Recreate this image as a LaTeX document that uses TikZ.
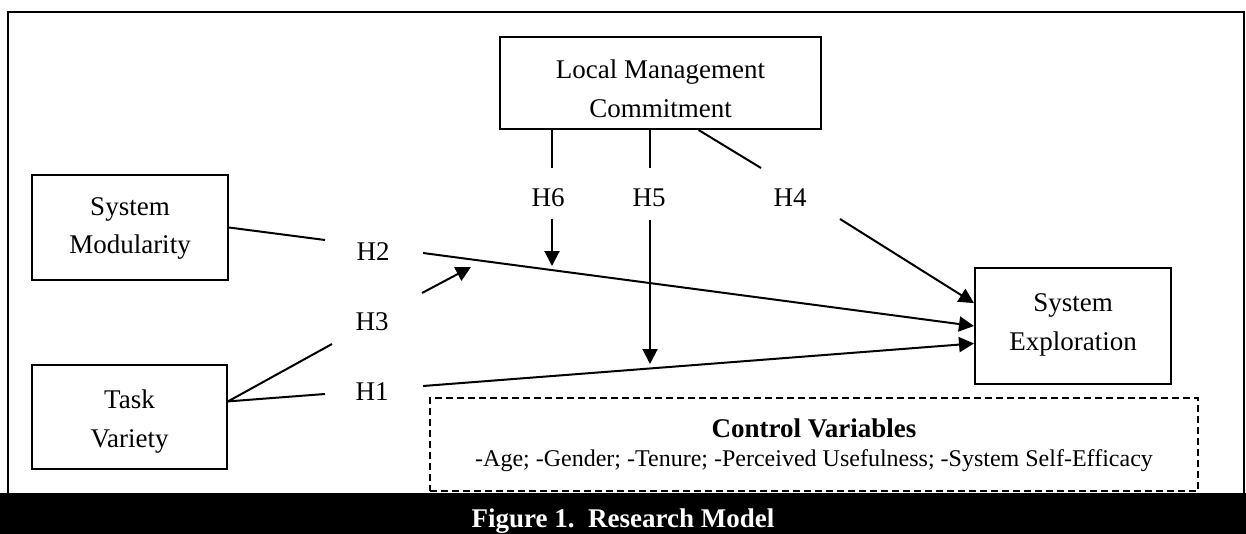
\documentclass[tikz,border=0pt]{standalone}
\usepackage{fontspec}
\setmainfont{Liberation Serif}
\usetikzlibrary{arrows.meta}

\tikzset{
  varbox/.style={draw, line width=1pt, align=center, inner sep=0pt,
    font=\fontsize{13.5}{19.5}\selectfont},
  hyplabel/.style={anchor=base, inner sep=0pt, font=\fontsize{13.5}{16}\selectfont},
  link/.style={line width=1pt},
  effect/.style={link, -{Triangle[length=7.5pt,width=7.5pt]}},
}

\begin{document}
\begin{tikzpicture}[x=0.5pt,y=-0.5pt] % Research model
       \useasboundingbox (0,0) rectangle (1246,534);
       \fill[black] (0,493) rectangle (1246,534);
       \draw[line width=1.2pt] (8,493) -- (8,12) -- (1244,12) -- (1244,493);
       \node[text=white, anchor=base, inner sep=0pt, font=\bfseries\fontsize{13.5}{16}\selectfont]
                (caption) at (623,527) {Figure 1.\ \ Research Model};

       \node[varbox, minimum width=98pt, minimum height=52.5pt, text height=29.5pt, text depth=3pt]
                (sm) at (130,227.5) {System\\Modularity};
       \node[varbox, minimum width=97.5pt, minimum height=52pt, text height=33pt, text depth=3pt]
                (tv) at (129.5,417) {Task\\Variety};
       \node[varbox, minimum width=160.5pt, minimum height=46pt, text height=37pt, text depth=2pt]
                (lmc) at (660.5,83) {Local Management\\Commitment};
       \node[varbox, minimum width=98pt, minimum height=58pt, text height=27pt, text depth=3pt]
                (se) at (1073,326) {System\\Exploration};
       \node[draw, line width=1pt, dash pattern=on 3.5pt off 2pt, minimum width=384pt, minimum height=46.5pt,
                inner sep=0pt, align=center, text height=24.5pt, text depth=3pt, font=\fontsize{12}{14.5}\selectfont]
                (cv) at (814,444.5) {{\bfseries\fontsize{13.5}{14.5}\selectfont Control Variables}\\
                -Age; -Gender; -Tenure; -Perceived Usefulness; -System Self-Efficacy};

       \node[hyplabel] (h1) at (372,400) {H1};
       \node[hyplabel] (h2) at (373,260) {H2};
       \node[hyplabel] (h3) at (372,330) {H3};
       \node[hyplabel] (h4) at (790,206) {H4};
       \node[hyplabel] (h5) at (649,206) {H5};
       \node[hyplabel] (h6) at (548,206) {H6};

       \coordinate (h1in) at (325,394);  \coordinate (h1out) at (423,386);
       \coordinate (h2in) at (325,240);  \coordinate (h2out) at (423,253);
       \coordinate (h3in) at (332,344);  \coordinate (h3out) at (422,293);
       \coordinate (h3tip) at (471,267);
       \coordinate (h4in) at (761,168);  \coordinate (h4out) at (840,219);
       \coordinate (h5in) at (650,168);  \coordinate (h5out) at (650,220);
       \coordinate (h5tip) at (650,364);
       \coordinate (h6in) at (552,168);  \coordinate (h6out) at (552,219);
       \coordinate (h6tip) at (552,266);

       \draw[link] (sm.east) -- (h2in);
       \draw[effect] (h2out) -- (se.west);
       \draw[link] (tv.9) -- (h3in);
       \draw[effect] (h3out) -- (h3tip);
       \draw[link] (tv.9) -- (h1in);
       \draw[effect] (h1out) -- (se.190);
       \draw[link] (lmc.south -| h6in) -- (h6in);
       \draw[effect] (h6out) -- (h6tip);
       \draw[link] (lmc.south -| h5in) -- (h5in);
       \draw[effect] (h5out) -- (h5tip);
       \draw[link] (lmc.-51) -- (h4in);
       \draw[effect] (h4out) -- (se.167);
\end{tikzpicture}
\end{document}
